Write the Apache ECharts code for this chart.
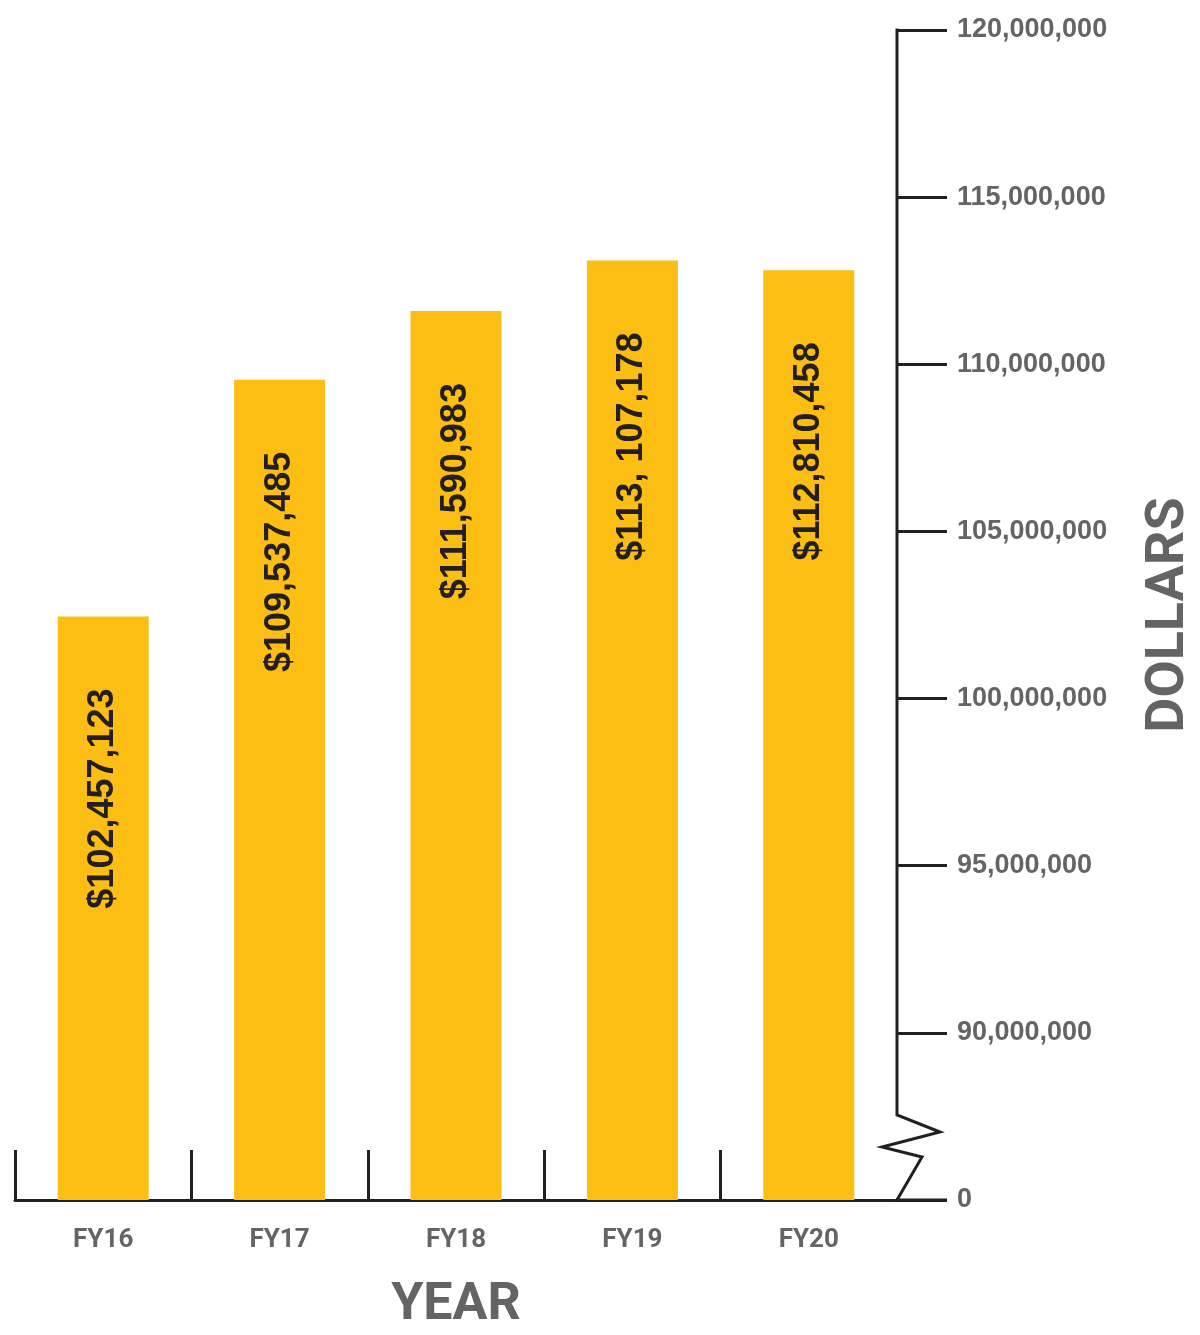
<!DOCTYPE html>
<html>
<head>
<meta charset="utf-8">
<script src="https://cdn.jsdelivr.net/npm/echarts@6/dist/echarts.min.js"></script>
<style>
  html, body { margin: 0; padding: 0; background: #fff; }
  #main { width: 1200px; height: 1335px; }
</style>
</head>
<body>
<div id="main"></div>
<script>
var years = ['FY16', 'FY17', 'FY18', 'FY19', 'FY20'];
var dollars = [102457123, 109537485, 111590983, 113107178, 112810458];
var barLabels = ['$102,457,123', '$109,537,485', '$111,590,983', '$113, 107,178', '$112,810,458'];
// axis starts at the break, which is shown as "0"
var axisBreak = 85000000;
var axisTop = 120000000;
var step = 5000000;

var gray = '#636466';
var ink = '#231f20';

var chart = echarts.init(document.getElementById('main'));
var option = {
    backgroundColor: '#fff',
    animation: false,
    grid: { left: 15, right: 303, top: 30, bottom: 135, outerBoundsMode: 'none', containLabel: false },
    xAxis: {
        type: 'category',
        data: years,
        name: 'YEAR',
        nameLocation: 'middle',
        nameGap: 80,
        nameTextStyle: { fontFamily: 'Roboto', fontWeight: 'bold', fontSize: 52, color: gray },
        axisLine: { show: true, lineStyle: { color: ink, width: 3 } },
        axisTick: { show: true, alignWithLabel: false, inside: true, length: 50, lineStyle: { color: ink, width: 3 } },
        axisLabel: { margin: 27, fontFamily: 'Roboto', fontWeight: 'bold', fontSize: 26, color: gray }
    },
    yAxis: {
        type: 'value',
        position: 'right',
        min: axisBreak,
        max: axisTop,
        interval: step,
        name: 'DOLLARS',
        nameLocation: 'middle',
        nameRotate: 90,
        nameGap: 245,
        nameTextStyle: { fontFamily: 'Roboto', fontWeight: 'bold', fontSize: 54, color: gray },
        splitLine: { show: false },
        axisLine: { show: false },
        axisTick: { show: true, length: 50, lineStyle: { color: ink, width: 3 } },
        axisLabel: {
            margin: 60,
            fontFamily: 'Liberation Sans', fontWeight: 'bold', fontSize: 27, color: gray,
            formatter: function (v) { return v === axisBreak ? '0' : v.toLocaleString('en-US'); }
        }
    },
    series: [{
        type: 'bar',
        data: dollars,
        barWidth: 91,
        itemStyle: { color: '#fdbe14' },
        label: {
            show: true,
            position: 'insideTop',
            distance: 72,
            rotate: 90,
            align: 'right',
            verticalAlign: 'middle',
            fontFamily: 'Liberation Sans', fontWeight: 'bold', fontSize: 36, color: ink,
            formatter: function (p) { return barLabels[p.dataIndex]; }
        }
    }]
};
chart.setOption(option);

// broken y axis line with zigzag
var ax = chart.getWidth() - 303;
var yTop = chart.convertToPixel({ yAxisIndex: 0 }, axisTop);
var yBot = chart.convertToPixel({ yAxisIndex: 0 }, axisBreak);
chart.setOption({
    graphic: [
        { type: 'rect', z: 100, shape: { x: ax - 3, y: yBot - 53, width: 6, height: 51 }, style: { fill: '#fff' } },
        {
            type: 'polyline', z: 101,
            shape: { points: [[ax, yTop - 1.5], [ax, yBot - 85], [ax + 43, yBot - 68], [ax - 15, yBot - 53], [ax + 25, yBot - 43], [ax, yBot], [ax + 50, yBot]] },
            style: { stroke: ink, lineWidth: 3, fill: null, lineJoin: 'miter' }
        }
    ]
});
</script>
</body>
</html>
